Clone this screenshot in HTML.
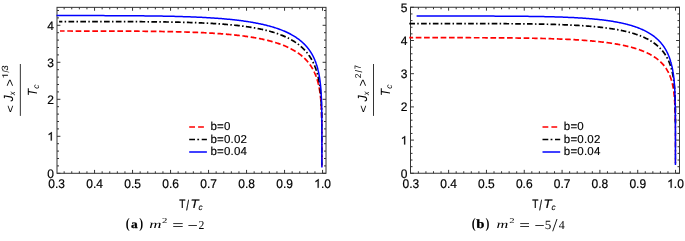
<!DOCTYPE html>
<html><head><meta charset="utf-8"><style>
html,body{margin:0;padding:0;background:#fff;}
svg{display:block;will-change:transform;}
text{font-family:"Liberation Sans",sans-serif;font-size:12px;fill:#000;text-rendering:geometricPrecision;}
text.lg{font-size:11.5px;letter-spacing:0.2px;stroke:#000;stroke-width:0.15px;}
text.serif{font-family:"Liberation Serif",serif;}
</style></head><body>
<svg width="685" height="241" viewBox="0 0 685 241">
<rect width="685" height="241" fill="#fff"/>
<rect x="57.0" y="7.35" width="269.00" height="165.95" fill="none" stroke="#333" stroke-width="1"/>
<path d="M64.15,173.3v-2.0M64.15,7.35v2.0M71.75,173.3v-2.0M71.75,7.35v2.0M79.35,173.3v-2.0M79.35,7.35v2.0M86.95,173.3v-2.0M86.95,7.35v2.0M94.55,173.3v-3.4M94.55,7.35v3.4M102.15,173.3v-2.0M102.15,7.35v2.0M109.75,173.3v-2.0M109.75,7.35v2.0M117.35,173.3v-2.0M117.35,7.35v2.0M124.95,173.3v-2.0M124.95,7.35v2.0M132.55,173.3v-3.4M132.55,7.35v3.4M140.15,173.3v-2.0M140.15,7.35v2.0M147.75,173.3v-2.0M147.75,7.35v2.0M155.35,173.3v-2.0M155.35,7.35v2.0M162.95,173.3v-2.0M162.95,7.35v2.0M170.55,173.3v-3.4M170.55,7.35v3.4M178.15,173.3v-2.0M178.15,7.35v2.0M185.75,173.3v-2.0M185.75,7.35v2.0M193.35,173.3v-2.0M193.35,7.35v2.0M200.95,173.3v-2.0M200.95,7.35v2.0M208.55,173.3v-3.4M208.55,7.35v3.4M216.15,173.3v-2.0M216.15,7.35v2.0M223.75,173.3v-2.0M223.75,7.35v2.0M231.35,173.3v-2.0M231.35,7.35v2.0M238.95,173.3v-2.0M238.95,7.35v2.0M246.55,173.3v-3.4M246.55,7.35v3.4M254.15,173.3v-2.0M254.15,7.35v2.0M261.75,173.3v-2.0M261.75,7.35v2.0M269.35,173.3v-2.0M269.35,7.35v2.0M276.95,173.3v-2.0M276.95,7.35v2.0M284.55,173.3v-3.4M284.55,7.35v3.4M292.15,173.3v-2.0M292.15,7.35v2.0M299.75,173.3v-2.0M299.75,7.35v2.0M307.35,173.3v-2.0M307.35,7.35v2.0M314.95,173.3v-2.0M314.95,7.35v2.0M322.55,173.3v-3.4M322.55,7.35v3.4M57.0,173.30h3.4M326.0,173.30h-3.4M57.0,165.90h2.0M326.0,165.90h-2.0M57.0,158.50h2.0M326.0,158.50h-2.0M57.0,151.10h2.0M326.0,151.10h-2.0M57.0,143.70h2.0M326.0,143.70h-2.0M57.0,136.30h3.4M326.0,136.30h-3.4M57.0,128.90h2.0M326.0,128.90h-2.0M57.0,121.50h2.0M326.0,121.50h-2.0M57.0,114.10h2.0M326.0,114.10h-2.0M57.0,106.70h2.0M326.0,106.70h-2.0M57.0,99.30h3.4M326.0,99.30h-3.4M57.0,91.90h2.0M326.0,91.90h-2.0M57.0,84.50h2.0M326.0,84.50h-2.0M57.0,77.10h2.0M326.0,77.10h-2.0M57.0,69.70h2.0M326.0,69.70h-2.0M57.0,62.30h3.4M326.0,62.30h-3.4M57.0,54.90h2.0M326.0,54.90h-2.0M57.0,47.50h2.0M326.0,47.50h-2.0M57.0,40.10h2.0M326.0,40.10h-2.0M57.0,32.70h2.0M326.0,32.70h-2.0M57.0,25.30h3.4M326.0,25.30h-3.4M57.0,17.90h2.0M326.0,17.90h-2.0M57.0,10.50h2.0M326.0,10.50h-2.0" stroke="#333" stroke-width="1" fill="none"/>
<g fill="none" stroke-width="1.5">
<path d="M60.00,31.02 L62.62,31.02 L65.21,31.02 L67.78,31.02 L70.33,31.02 L72.86,31.03 L75.37,31.03 L77.86,31.03 L80.33,31.03 L82.78,31.03 L85.21,31.04 L87.62,31.04 L90.01,31.04 L92.39,31.04 L94.74,31.05 L97.07,31.05 L99.38,31.06 L101.68,31.06 L103.95,31.07 L106.21,31.07 L108.44,31.08 L110.66,31.08 L112.86,31.09 L115.04,31.10 L117.21,31.11 L119.35,31.12 L121.48,31.12 L123.59,31.13 L125.68,31.14 L127.76,31.16 L129.81,31.17 L131.85,31.18 L133.87,31.19 L135.88,31.21 L137.86,31.22 L139.84,31.24 L141.79,31.25 L143.73,31.27 L145.64,31.29 L147.55,31.31 L149.43,31.33 L151.31,31.35 L153.16,31.37 L155.00,31.40 L156.82,31.42 L158.63,31.45 L160.42,31.47 L162.19,31.50 L163.95,31.53 L165.69,31.56 L167.42,31.59 L169.13,31.62 L170.83,31.66 L172.51,31.69 L174.18,31.73 L175.83,31.77 L177.47,31.80 L179.09,31.84 L180.70,31.89 L182.29,31.93 L183.87,31.98 L185.44,32.02 L186.99,32.07 L188.52,32.12 L190.05,32.17 L191.55,32.22 L193.05,32.28 L194.53,32.33 L196.00,32.39 L197.45,32.45 L198.89,32.51 L200.32,32.57 L201.73,32.64 L203.13,32.70 L204.52,32.77 L205.89,32.84 L207.25,32.91 L208.60,32.98 L209.94,33.06 L211.26,33.13 L212.57,33.21 L213.87,33.29 L215.16,33.37 L216.43,33.46 L217.69,33.54 L218.94,33.63 L220.18,33.72 L221.40,33.81 L222.62,33.90 L223.82,34.00 L225.01,34.09 L226.19,34.19 L227.35,34.29 L228.51,34.40 L229.65,34.50 L230.79,34.61 L231.91,34.71 L233.02,34.82 L234.12,34.94 L235.21,35.05 L236.29,35.17 L237.35,35.28 L238.41,35.40 L239.46,35.53 L240.49,35.65 L241.52,35.78 L242.53,35.90 L243.54,36.03 L244.53,36.16 L245.52,36.30 L246.49,36.43 L247.45,36.57 L248.41,36.71 L249.35,36.85 L250.29,36.99 L251.21,37.14 L252.13,37.29 L253.03,37.44 L253.93,37.59 L254.82,37.74 L255.69,37.89 L256.56,38.05 L257.42,38.21 L258.27,38.37 L259.11,38.53 L259.95,38.70 L260.77,38.86 L261.59,39.03 L262.39,39.20 L263.19,39.37 L263.98,39.55 L264.76,39.72 L265.53,39.90 L266.29,40.08 L267.05,40.26 L267.80,40.44 L268.54,40.63 L269.27,40.81 L269.99,41.00 L270.70,41.19 L271.41,41.38 L272.11,41.58 L272.80,41.77 L273.49,41.97 L274.16,42.17 L274.83,42.37 L275.49,42.57 L276.14,42.77 L276.79,42.98 L277.43,43.19 L278.06,43.40 L278.68,43.61 L279.30,43.82 L279.91,44.03 L280.51,44.25 L281.11,44.47 L281.70,44.69 L282.28,44.91 L282.86,45.13 L283.43,45.35 L283.99,45.58 L284.54,45.80 L285.09,46.03 L285.64,46.26 L286.17,46.49 L286.70,46.73 L287.23,46.96 L287.74,47.20 L288.25,47.43 L288.76,47.67 L289.26,47.91 L289.75,48.16 L290.24,48.40 L290.72,48.64 L291.19,48.89 L291.66,49.14 L292.13,49.39 L292.58,49.64 L293.04,49.89 L293.48,50.14 L293.92,50.40 L294.36,50.65 L294.79,50.91 L295.21,51.17 L295.63,51.43 L296.05,51.69 L296.46,51.95 L296.86,52.22 L297.26,52.48 L297.65,52.75 L298.04,53.02 L298.42,53.29 L298.80,53.56 L299.18,53.83 L299.54,54.10 L299.91,54.37 L300.27,54.65 L300.62,54.92 L300.97,55.20 L301.32,55.48 L301.66,55.76 L301.99,56.04 L302.33,56.32 L302.65,56.61 L302.97,56.89 L303.29,57.18 L303.61,57.46 L303.92,57.75 L304.22,58.04 L304.52,58.33 L304.82,58.62 L305.11,58.91 L305.40,59.20 L305.69,59.50 L305.97,59.79 L306.25,60.09 L306.52,60.38 L306.79,60.68 L307.06,60.98 L307.32,61.28 L307.58,61.58 L307.83,61.88 L308.08,62.18 L308.33,62.49 L308.57,62.79 L308.81,63.10 L309.05,63.40 L309.28,63.71 L309.51,64.02 L309.74,64.33 L309.96,64.64 L310.18,64.95 L310.40,65.26 L310.61,65.57 L310.82,65.89 L311.03,66.20 L311.24,66.52 L311.44,66.83 L311.63,67.15 L311.83,67.46 L312.02,67.78 L312.21,68.10 L312.40,68.42 L312.58,68.74 L312.76,69.06 L312.94,69.39 L313.11,69.71 L313.28,70.03 L313.45,70.36 L313.62,70.68 L313.78,71.01 L313.95,71.33 L314.10,71.66 L314.26,71.99 L314.41,72.32 L314.57,72.65 L314.71,72.98 L314.86,73.31 L315.00,73.64 L315.15,73.97 L315.29,74.30 L315.42,74.64 L315.56,74.97 L315.69,75.31 L315.82,75.64 L315.95,75.98 L316.07,76.31 L316.20,76.65 L316.32,76.99 L316.44,77.33 L316.56,77.67 L316.67,78.01 L316.78,78.35 L316.90,78.69 L317.00,79.03 L317.11,79.37 L317.22,79.71 L317.32,80.06 L317.42,80.40 L317.52,80.75 L317.62,81.09 L317.72,81.44 L317.81,81.78 L317.91,82.13 L318.00,82.48 L318.09,82.82 L318.17,83.17 L318.26,83.52 L318.35,83.87 L318.43,84.22 L318.51,84.57 L318.59,84.92 L318.67,85.27 L318.75,85.63 L318.82,85.98 L318.90,86.33 L318.97,86.69 L319.04,87.04 L319.11,87.39 L319.18,87.75 L319.24,88.10 L319.31,88.46 L319.37,88.82 L319.44,89.17 L319.50,89.53 L319.56,89.89 L319.62,90.25 L319.68,90.61 L319.73,90.97 L319.79,91.33 L319.84,91.69 L319.90,92.05 L319.95,92.41 L320.00,92.77 L320.05,93.13 L320.10,93.50 L320.15,93.86 L320.20,94.22 L320.24,94.59 L320.29,94.95 L320.33,95.32 L320.37,95.68 L320.42,96.05 L320.46,96.42 L320.50,96.78 L320.54,97.15 L320.57,97.52 L320.61,97.89 L320.65,98.26 L320.68,98.63 L320.72,98.99 L320.75,99.36 L320.79,99.74 L320.82,100.11 L320.85,100.48 L320.88,100.85 L320.91,101.22 L320.94,101.60 L320.97,101.97 L321.00,102.34 L321.03,102.72 L321.05,103.09 L321.08,103.47 L321.10,103.84 L321.13,104.22 L321.15,104.59 L321.18,104.97 L321.20,105.35 L321.22,105.73 L321.24,106.10 L321.26,106.48 L321.28,106.86 L321.30,107.24 L321.32,107.62 L321.34,108.00 L321.36,108.38 L321.38,108.77 L321.40,109.15 L321.41,109.53 L321.43,109.91 L321.45,110.30 L321.46,110.68 L321.48,111.06 L321.49,111.45 L321.51,111.83 L321.52,112.22 L321.53,112.61 L321.55,112.99 L321.56,113.38 L321.57,113.77 L321.58,114.16 L321.59,114.55 L321.61,114.93 L321.62,115.32 L321.64,115.71 L321.66,116.11 L321.67,116.50 L321.69,116.89 L321.70,117.28 L321.71,117.67 L321.72,118.07 L321.74,118.46 L321.75,118.86 L321.76,119.25 L321.77,119.65 L321.78,120.04 L321.79,120.44 L321.79,120.84 L321.80,121.23 L321.81,121.63 L321.82,122.03 L321.82,122.43 L321.83,122.83 L321.84,123.23" stroke="#ff0000" stroke-width="1.7" stroke-dasharray="5.700,2.650" stroke-dashoffset="1.1"/>
<path d="M321.84,123.23 L321.84,123.63 L321.85,124.03 L321.85,124.44 L321.85,124.84 L321.86,125.24 L321.86,125.65 L321.86,126.05 L321.86,126.46 L321.86,126.86 L321.86,127.27 L321.87,127.68 L321.87,128.08 L321.87,128.49 L321.87,128.90 L321.87,129.31 L321.87,129.72 L321.87,130.13 L321.87,130.55 L321.87,130.96 L321.87,131.37 L321.88,131.79 L321.88,132.20 L321.88,132.62 L321.88,133.04 L321.88,133.45 L321.88,133.87 L321.88,134.29 L321.88,134.71 L321.88,135.13 L321.88,135.55 L321.88,135.97 L321.88,136.40 L321.88,136.82 L321.88,137.25 L321.88,137.67 L321.88,138.10 L321.88,138.53 L321.88,138.95 L321.88,139.38 L321.88,139.81 L321.88,140.25 L321.88,140.68 L321.88,141.11 L321.88,141.55 L321.88,141.98 L321.88,142.42 L321.88,142.86 L321.89,143.29 L321.89,143.73 L321.89,144.18 L321.89,144.62 L321.89,145.06 L321.89,145.51 L321.89,145.95 L321.89,146.40 L321.89,146.85 L321.89,147.30 L321.89,147.75 L321.89,148.20 L321.89,148.66 L321.89,149.11 L321.89,149.57 L321.89,150.03 L321.89,150.49 L321.89,150.95 L321.89,151.42 L321.89,151.88 L321.89,152.35 L321.89,152.82 L321.89,153.29 L321.89,153.76 L321.89,154.24 L321.89,154.71 L321.89,155.19 L321.89,155.68 L321.89,156.16 L321.89,156.65 L321.89,157.14 L321.89,157.63 L321.89,158.12 L321.89,158.62 L321.89,159.12 L321.89,159.62 L321.89,160.13 L321.89,160.64 L321.89,161.15 L321.89,161.67 L321.89,162.19 L321.89,162.72 L321.89,163.25 L321.89,163.79 L321.89,164.33 L321.89,164.88 L321.89,165.43 L321.89,165.99 L321.89,166.40" stroke="#ff0000" stroke-width="1.3" stroke-dasharray="5.700,2.650" stroke-dashoffset="319.840"/>
<path d="M59.10,21.55 L61.73,21.55 L64.33,21.55 L66.91,21.55 L69.47,21.55 L72.01,21.55 L74.53,21.56 L77.03,21.56 L79.50,21.56 L81.96,21.56 L84.40,21.56 L86.82,21.56 L89.22,21.56 L91.60,21.57 L93.96,21.57 L96.30,21.57 L98.62,21.57 L100.92,21.58 L103.20,21.58 L105.47,21.59 L107.71,21.59 L109.94,21.59 L112.15,21.60 L114.34,21.60 L116.51,21.61 L118.66,21.62 L120.80,21.62 L122.91,21.63 L125.01,21.64 L127.09,21.64 L129.16,21.65 L131.20,21.66 L133.23,21.67 L135.24,21.68 L137.24,21.69 L139.21,21.71 L141.17,21.72 L143.12,21.73 L145.04,21.75 L146.95,21.76 L148.85,21.78 L150.72,21.79 L152.58,21.81 L154.43,21.83 L156.26,21.85 L158.07,21.87 L159.87,21.89 L161.65,21.92 L163.41,21.94 L165.16,21.97 L166.89,21.99 L168.61,22.02 L170.32,22.05 L172.00,22.08 L173.68,22.11 L175.34,22.14 L176.98,22.17 L178.61,22.21 L180.22,22.25 L181.82,22.28 L183.40,22.32 L184.97,22.36 L186.53,22.41 L188.07,22.45 L189.60,22.50 L191.11,22.54 L192.61,22.59 L194.10,22.64 L195.57,22.69 L197.03,22.75 L198.48,22.80 L199.91,22.86 L201.33,22.92 L202.73,22.98 L204.12,23.04 L205.50,23.10 L206.87,23.17 L208.22,23.24 L209.56,23.31 L210.89,23.38 L212.21,23.45 L213.51,23.53 L214.80,23.60 L216.08,23.68 L217.34,23.77 L218.60,23.85 L219.84,23.93 L221.07,24.02 L222.29,24.11 L223.49,24.20 L224.69,24.29 L225.87,24.39 L227.04,24.49 L228.20,24.59 L229.35,24.69 L230.49,24.79 L231.61,24.90 L232.73,25.01 L233.83,25.12 L234.92,25.23 L236.00,25.34 L237.07,25.46 L238.14,25.58 L239.18,25.70 L240.22,25.82 L241.25,25.95 L242.27,26.07 L243.28,26.20 L244.28,26.34 L245.26,26.47 L246.24,26.61 L247.21,26.74 L248.17,26.88 L249.11,27.03 L250.05,27.17 L250.98,27.32 L251.90,27.47 L252.81,27.62 L253.71,27.77 L254.60,27.93 L255.48,28.09 L256.35,28.25 L257.21,28.41 L258.07,28.57 L258.91,28.74 L259.75,28.91 L260.57,29.08 L261.39,29.25 L262.20,29.43 L263.00,29.61 L263.79,29.78 L264.58,29.97 L265.35,30.15 L266.12,30.34 L266.87,30.52 L267.62,30.71 L268.37,30.91 L269.10,31.10 L269.82,31.30 L270.54,31.50 L271.25,31.70 L271.95,31.90 L272.65,32.10 L273.33,32.31 L274.01,32.52 L274.68,32.73 L275.34,32.94 L276.00,33.16 L276.65,33.37 L277.29,33.59 L277.92,33.81 L278.55,34.03 L279.17,34.26 L279.78,34.48 L280.39,34.71 L280.98,34.94 L281.58,35.17 L282.16,35.41 L282.74,35.64 L283.31,35.88 L283.87,36.12 L284.43,36.36 L284.98,36.61 L285.53,36.85 L286.06,37.10 L286.60,37.35 L287.12,37.60 L287.64,37.85 L288.15,38.10 L288.66,38.36 L289.16,38.62 L289.66,38.88 L290.14,39.14 L290.63,39.40 L291.10,39.66 L291.57,39.93 L292.04,40.20 L292.50,40.47 L292.95,40.74 L293.40,41.01 L293.84,41.28 L294.28,41.56 L294.71,41.84 L295.14,42.11 L295.56,42.39 L295.97,42.68 L296.38,42.96 L296.79,43.24 L297.19,43.53 L297.58,43.82 L297.97,44.11 L298.36,44.40 L298.74,44.69 L299.11,44.98 L299.48,45.28 L299.85,45.58 L300.21,45.87 L300.56,46.17 L300.92,46.47 L301.26,46.78 L301.60,47.08 L301.94,47.38 L302.27,47.69 L302.60,48.00 L302.93,48.31 L303.24,48.62 L303.56,48.93 L303.87,49.24 L304.18,49.55 L304.48,49.87 L304.78,50.19 L305.07,50.50 L305.36,50.82 L305.65,51.14 L305.93,51.46 L306.21,51.79 L306.48,52.11 L306.75,52.43 L307.02,52.76 L307.28,53.09 L307.54,53.42 L307.80,53.74 L308.05,54.07 L308.30,54.41 L308.54,54.74 L308.78,55.07 L309.02,55.41 L309.26,55.74 L309.49,56.08 L309.71,56.42 L309.94,56.76 L310.16,57.09 L310.38,57.44 L310.59,57.78 L310.80,58.12 L311.01,58.46 L311.21,58.81 L311.42,59.15 L311.61,59.50 L311.81,59.85 L312.00,60.20 L312.19,60.54 L312.38,60.89 L312.56,61.25 L312.74,61.60 L312.92,61.95 L313.10,62.30 L313.27,62.66 L313.44,63.01 L313.61,63.37 L313.77,63.73 L313.93,64.08 L314.09,64.44 L314.25,64.80 L314.40,65.16 L314.56,65.52 L314.71,65.89 L314.85,66.25 L315.00,66.61 L315.14,66.98 L315.28,67.34 L315.42,67.71 L315.55,68.07 L315.68,68.44 L315.81,68.81 L315.94,69.18 L316.07,69.55 L316.19,69.92 L316.32,70.29 L316.44,70.66 L316.55,71.03 L316.67,71.40 L316.78,71.77 L316.89,72.15 L317.00,72.52 L317.11,72.90 L317.22,73.27 L317.32,73.65 L317.42,74.03 L317.52,74.41 L317.62,74.78 L317.72,75.16 L317.82,75.54 L317.91,75.92 L318.00,76.30 L318.09,76.69 L318.18,77.07 L318.26,77.45 L318.35,77.83 L318.43,78.22 L318.51,78.60 L318.60,78.99 L318.67,79.37 L318.75,79.76 L318.83,80.15 L318.90,80.53 L318.97,80.92 L319.05,81.31 L319.12,81.70 L319.18,82.09 L319.25,82.48 L319.32,82.87 L319.38,83.26 L319.45,83.65 L319.51,84.04 L319.57,84.43 L319.63,84.83 L319.69,85.22 L319.74,85.61 L319.80,86.01 L319.85,86.40 L319.91,86.80 L319.96,87.19 L320.01,87.59 L320.06,87.99 L320.11,88.38 L320.16,88.78 L320.21,89.18 L320.25,89.58 L320.30,89.98 L320.34,90.38 L320.38,90.78 L320.43,91.18 L320.47,91.58 L320.51,91.98 L320.55,92.38 L320.59,92.78 L320.62,93.19 L320.66,93.59 L320.70,93.99 L320.73,94.40 L320.77,94.80 L320.80,95.21 L320.83,95.61 L320.86,96.02 L320.89,96.43 L320.92,96.83 L320.95,97.24 L320.98,97.65 L321.01,98.06 L321.04,98.46 L321.07,98.87 L321.09,99.28 L321.12,99.69 L321.14,100.10 L321.17,100.51 L321.19,100.93 L321.21,101.34 L321.24,101.75 L321.26,102.16 L321.28,102.57 L321.30,102.99 L321.32,103.40 L321.34,103.82 L321.36,104.23 L321.38,104.65 L321.39,105.06 L321.41,105.48 L321.43,105.89 L321.45,106.31 L321.46,106.73 L321.48,107.15 L321.49,107.56 L321.51,107.98 L321.52,108.40 L321.54,108.82 L321.55,109.24 L321.56,109.66 L321.57,110.08 L321.59,110.51 L321.60,110.93 L321.61,111.35 L321.62,111.77 L321.63,112.20 L321.64,112.62 L321.65,113.04 L321.66,113.47 L321.67,113.89 L321.68,114.32 L321.69,114.74 L321.70,115.17 L321.71,115.60 L321.72,116.03 L321.74,116.45 L321.75,116.88 L321.76,117.31 L321.76,117.74 L321.77,118.17 L321.78,118.60 L321.79,119.03 L321.80,119.46 L321.80,119.90 L321.81,120.33 L321.82,120.76 L321.82,121.20 L321.83,121.63 L321.83,122.07 L321.84,122.50 L321.84,122.94 L321.84,123.37" stroke="#000" stroke-width="1.7" stroke-dasharray="5.700,2.300,1.500,2.340" stroke-dashoffset="2.46"/>
<path d="M321.84,123.37 L321.85,123.81 L321.85,124.25 L321.85,124.69 L321.86,125.12 L321.86,125.56 L321.86,126.00 L321.86,126.44 L321.86,126.89 L321.86,127.33 L321.87,127.77 L321.87,128.21 L321.87,128.66 L321.87,129.10 L321.87,129.55 L321.87,129.99 L321.87,130.44 L321.87,130.88 L321.87,131.33 L321.88,131.78 L321.88,132.23 L321.88,132.68 L321.88,133.13 L321.88,133.58 L321.88,134.03 L321.88,134.48 L321.88,134.94 L321.88,135.39 L321.89,135.85 L321.89,136.30 L321.89,136.76 L321.89,137.22 L321.89,137.67 L321.89,138.13 L321.89,138.59 L321.89,139.05 L321.89,139.52 L321.89,139.98 L321.89,140.44 L321.90,140.91 L321.90,141.37 L321.90,141.84 L321.90,142.30 L321.90,142.77 L321.90,143.24 L321.90,143.71 L321.90,144.18 L321.90,144.66 L321.90,145.13 L321.90,145.61 L321.90,146.08 L321.90,146.56 L321.90,147.04 L321.90,147.52 L321.90,148.00 L321.90,148.48 L321.90,148.96 L321.90,149.45 L321.90,149.93 L321.90,150.42 L321.90,150.91 L321.90,151.40 L321.90,151.89 L321.90,152.39 L321.90,152.88 L321.90,153.38 L321.90,153.88 L321.90,154.38 L321.90,154.88 L321.90,155.39 L321.90,155.90 L321.90,156.40 L321.90,156.92 L321.90,157.43 L321.90,157.94 L321.90,158.46 L321.90,158.98 L321.90,159.51 L321.90,160.03 L321.90,160.56 L321.90,161.10 L321.90,161.63 L321.90,162.17 L321.90,162.71 L321.90,163.26 L321.90,163.81 L321.90,164.37 L321.90,164.93 L321.90,165.50 L321.90,166.07 L321.90,166.40" stroke="#000" stroke-width="1.3" stroke-dasharray="5.700,2.300,1.500,2.340" stroke-dashoffset="331.024"/>
<path d="M56.55,15.57 L59.20,15.57 L61.82,15.57 L64.43,15.57 L67.02,15.57 L69.58,15.57 L72.12,15.58 L74.65,15.58 L77.15,15.58 L79.63,15.58 L82.09,15.58 L84.53,15.59 L86.96,15.59 L89.36,15.59 L91.74,15.60 L94.10,15.60 L96.45,15.61 L98.77,15.61 L101.08,15.62 L103.36,15.62 L105.63,15.63 L107.88,15.64 L110.11,15.65 L112.32,15.65 L114.51,15.66 L116.68,15.67 L118.84,15.68 L120.98,15.69 L123.09,15.70 L125.20,15.71 L127.28,15.73 L129.35,15.74 L131.39,15.75 L133.42,15.77 L135.44,15.79 L137.43,15.80 L139.41,15.82 L141.38,15.84 L143.32,15.86 L145.25,15.88 L147.16,15.90 L149.06,15.92 L150.93,15.95 L152.80,15.97 L154.64,16.00 L156.47,16.02 L158.29,16.05 L160.08,16.08 L161.87,16.11 L163.63,16.15 L165.38,16.18 L167.12,16.21 L168.84,16.25 L170.54,16.29 L172.23,16.33 L173.90,16.37 L175.56,16.41 L177.21,16.45 L178.84,16.50 L180.45,16.54 L182.05,16.59 L183.64,16.64 L185.21,16.69 L186.76,16.74 L188.31,16.80 L189.84,16.85 L191.35,16.91 L192.85,16.97 L194.34,17.03 L195.81,17.09 L197.27,17.16 L198.71,17.22 L200.15,17.29 L201.57,17.36 L202.97,17.43 L204.36,17.50 L205.74,17.58 L207.11,17.65 L208.46,17.73 L209.80,17.81 L211.13,17.90 L212.45,17.98 L213.75,18.07 L215.04,18.16 L216.32,18.25 L217.58,18.34 L218.84,18.43 L220.08,18.53 L221.31,18.62 L222.53,18.72 L223.73,18.83 L224.93,18.93 L226.11,19.04 L227.28,19.14 L228.44,19.25 L229.59,19.36 L230.72,19.48 L231.85,19.59 L232.96,19.71 L234.07,19.83 L235.16,19.95 L236.24,20.08 L237.31,20.20 L238.37,20.33 L239.42,20.46 L240.46,20.59 L241.49,20.73 L242.50,20.86 L243.51,21.00 L244.51,21.14 L245.50,21.28 L246.47,21.42 L247.44,21.57 L248.40,21.72 L249.34,21.87 L250.28,22.02 L251.21,22.17 L252.13,22.33 L253.03,22.49 L253.93,22.65 L254.82,22.81 L255.70,22.97 L256.57,23.14 L257.43,23.31 L258.29,23.48 L259.13,23.65 L259.97,23.82 L260.79,24.00 L261.61,24.17 L262.42,24.35 L263.22,24.54 L264.01,24.72 L264.79,24.90 L265.56,25.09 L266.33,25.28 L267.08,25.47 L267.83,25.66 L268.57,25.86 L269.31,26.05 L270.03,26.25 L270.75,26.45 L271.45,26.65 L272.15,26.86 L272.85,27.06 L273.53,27.27 L274.21,27.48 L274.88,27.69 L275.54,27.90 L276.20,28.12 L276.84,28.34 L277.48,28.55 L278.12,28.77 L278.74,28.99 L279.36,29.22 L279.97,29.44 L280.57,29.67 L281.17,29.90 L281.76,30.13 L282.34,30.36 L282.92,30.59 L283.49,30.83 L284.05,31.06 L284.61,31.30 L285.16,31.54 L285.70,31.78 L286.24,32.03 L286.77,32.27 L287.29,32.52 L287.81,32.77 L288.32,33.01 L288.83,33.27 L289.33,33.52 L289.82,33.77 L290.31,34.03 L290.79,34.28 L291.27,34.54 L291.74,34.80 L292.20,35.06 L292.66,35.33 L293.11,35.59 L293.56,35.86 L294.00,36.12 L294.43,36.39 L294.86,36.66 L295.29,36.93 L295.71,37.21 L296.12,37.48 L296.53,37.76 L296.94,38.03 L297.33,38.31 L297.73,38.59 L298.12,38.87 L298.50,39.15 L298.88,39.44 L299.25,39.72 L299.62,40.01 L299.98,40.30 L300.34,40.58 L300.70,40.87 L301.05,41.17 L301.39,41.46 L301.73,41.75 L302.07,42.05 L302.40,42.34 L302.73,42.64 L303.05,42.94 L303.37,43.24 L303.68,43.54 L303.99,43.84 L304.30,44.14 L304.60,44.45 L304.89,44.75 L305.19,45.06 L305.48,45.37 L305.76,45.67 L306.04,45.98 L306.32,46.30 L306.59,46.61 L306.86,46.92 L307.13,47.23 L307.39,47.55 L307.65,47.87 L307.90,48.18 L308.15,48.50 L308.40,48.82 L308.64,49.14 L308.88,49.46 L309.12,49.78 L309.35,50.11 L309.58,50.43 L309.81,50.76 L310.03,51.08 L310.25,51.41 L310.47,51.74 L310.68,52.07 L310.89,52.40 L311.10,52.73 L311.30,53.06 L311.50,53.39 L311.70,53.72 L311.89,54.06 L312.08,54.39 L312.27,54.73 L312.46,55.07 L312.64,55.41 L312.82,55.74 L313.00,56.08 L313.17,56.43 L313.34,56.77 L313.51,57.11 L313.68,57.45 L313.84,57.80 L314.00,58.14 L314.16,58.49 L314.32,58.83 L314.47,59.18 L314.62,59.53 L314.77,59.88 L314.91,60.23 L315.06,60.58 L315.20,60.93 L315.34,61.28 L315.47,61.63 L315.61,61.99 L315.74,62.34 L315.87,62.70 L316.00,63.05 L316.12,63.41 L316.25,63.76 L316.37,64.12 L316.49,64.48 L316.60,64.84 L316.72,65.20 L316.83,65.56 L316.94,65.92 L317.05,66.29 L317.16,66.65 L317.26,67.01 L317.37,67.38 L317.47,67.74 L317.57,68.11 L317.66,68.47 L317.76,68.84 L317.85,69.21 L317.95,69.58 L318.04,69.95 L318.13,70.32 L318.21,70.69 L318.30,71.06 L318.38,71.43 L318.47,71.80 L318.55,72.18 L318.63,72.55 L318.71,72.92 L318.78,73.30 L318.86,73.67 L318.93,74.05 L319.00,74.43 L319.07,74.81 L319.14,75.18 L319.21,75.56 L319.28,75.94 L319.34,76.32 L319.41,76.70 L319.47,77.09 L319.53,77.47 L319.59,77.85 L319.65,78.23 L319.71,78.62 L319.76,79.00 L319.82,79.39 L319.87,79.77 L319.93,80.16 L319.98,80.55 L320.03,80.94 L320.08,81.32 L320.13,81.71 L320.17,82.10 L320.22,82.49 L320.27,82.88 L320.31,83.28 L320.35,83.67 L320.40,84.06 L320.44,84.45 L320.48,84.85 L320.52,85.24 L320.56,85.64 L320.60,86.03 L320.63,86.43 L320.67,86.83 L320.70,87.23 L320.74,87.62 L320.77,88.02 L320.81,88.42 L320.84,88.82 L320.87,89.22 L320.90,89.63 L320.93,90.03 L320.96,90.43 L320.99,90.83 L321.02,91.24 L321.04,91.64 L321.07,92.05 L321.09,92.45 L321.12,92.86 L321.14,93.27 L321.17,93.68 L321.19,94.08 L321.21,94.49 L321.24,94.90 L321.26,95.31 L321.28,95.73 L321.30,96.14 L321.32,96.55 L321.34,96.96 L321.36,97.38 L321.37,97.79 L321.39,98.21 L321.41,98.62 L321.43,99.04 L321.44,99.46 L321.46,99.87 L321.47,100.29 L321.49,100.71 L321.50,101.13 L321.52,101.55 L321.53,101.97 L321.54,102.40 L321.56,102.82 L321.57,103.24 L321.58,103.67 L321.59,104.09 L321.60,104.52 L321.61,104.95 L321.62,105.37 L321.64,105.80 L321.65,106.23 L321.65,106.66 L321.66,107.09 L321.67,107.52 L321.68,107.95 L321.69,108.39 L321.70,108.82 L321.71,109.26 L321.71,109.69 L321.72,110.13 L321.73,110.56 L321.74,111.00 L321.74,111.44 L321.75,111.88 L321.75,112.32 L321.76,112.76 L321.77,113.20 L321.77,113.65 L321.78,114.09 L321.78,114.54 L321.79,114.98 L321.79,115.43 L321.80,115.88 L321.80,116.33 L321.80,116.78 L321.81,117.23 L321.81,117.68 L321.82,118.13 L321.82,118.58 L321.82,119.04 L321.83,119.49 L321.83,119.95 L321.83,120.41 L321.84,120.87 L321.84,121.33 L321.84,121.79 L321.84,122.25 L321.85,122.71 L321.85,123.18 L321.85,123.64 L321.85,124.11 L321.85,124.58 L321.86,125.05 L321.86,125.52 L321.86,125.99 L321.86,126.46 L321.86,126.94 L321.86,127.41 L321.87,127.89 L321.87,128.37 L321.87,128.85 L321.87,129.33 L321.87,129.81 L321.87,130.30 L321.87,130.78 L321.87,131.27 L321.87,131.76 L321.88,132.25 L321.88,132.74 L321.88,133.23 L321.88,133.73 L321.88,134.22 L321.88,134.72 L321.88,135.22 L321.88,135.72 L321.88,136.22 L321.88,136.73 L321.88,137.24 L321.88,137.75 L321.88,138.26 L321.88,138.77 L321.88,139.28 L321.88,139.80 L321.88,140.32 L321.88,140.84 L321.88,141.37 L321.88,141.89 L321.88,142.42 L321.88,142.95 L321.89,143.48 L321.89,144.02 L321.89,144.56 L321.89,145.10 L321.89,145.64 L321.89,146.19 L321.89,146.74 L321.89,147.29 L321.89,147.85 L321.89,148.41 L321.89,148.97 L321.89,149.54 L321.89,150.11 L321.89,150.68 L321.89,151.26 L321.89,151.84 L321.89,152.43 L321.89,153.02 L321.89,153.61 L321.89,154.21 L321.89,154.82 L321.89,155.43 L321.89,156.04 L321.89,156.67 L321.89,157.29 L321.89,157.93 L321.89,158.57 L321.89,159.22 L321.89,159.88 L321.89,160.54 L321.89,161.22 L321.89,161.91 L321.89,162.60 L321.89,163.31 L321.89,164.04 L321.89,164.77 L321.89,165.53 L321.89,166.31 L321.89,167.11 L321.89,167.40" stroke="#0000ff"/>
</g>
<g transform="translate(0,187.800) scale(1,1.06) translate(0,-187.800)"><text x="48.209" y="187.800" style="font-family:'Liberation Sans',sans-serif;font-size:12px;fill:#000;stroke:#000;stroke-width:0.2px">0.3</text></g>
<g transform="translate(0,187.800) scale(1,1.06) translate(0,-187.800)"><text x="86.209" y="187.800" style="font-family:'Liberation Sans',sans-serif;font-size:12px;fill:#000;stroke:#000;stroke-width:0.2px">0.4</text></g>
<g transform="translate(0,187.800) scale(1,1.06) translate(0,-187.800)"><text x="124.209" y="187.800" style="font-family:'Liberation Sans',sans-serif;font-size:12px;fill:#000;stroke:#000;stroke-width:0.2px">0.5</text></g>
<g transform="translate(0,187.800) scale(1,1.06) translate(0,-187.800)"><text x="162.209" y="187.800" style="font-family:'Liberation Sans',sans-serif;font-size:12px;fill:#000;stroke:#000;stroke-width:0.2px">0.6</text></g>
<g transform="translate(0,187.800) scale(1,1.06) translate(0,-187.800)"><text x="200.209" y="187.800" style="font-family:'Liberation Sans',sans-serif;font-size:12px;fill:#000;stroke:#000;stroke-width:0.2px">0.7</text></g>
<g transform="translate(0,187.800) scale(1,1.06) translate(0,-187.800)"><text x="238.209" y="187.800" style="font-family:'Liberation Sans',sans-serif;font-size:12px;fill:#000;stroke:#000;stroke-width:0.2px">0.8</text></g>
<g transform="translate(0,187.800) scale(1,1.06) translate(0,-187.800)"><text x="276.209" y="187.800" style="font-family:'Liberation Sans',sans-serif;font-size:12px;fill:#000;stroke:#000;stroke-width:0.2px">0.9</text></g>
<g transform="translate(0,187.800) scale(1,1.06) translate(0,-187.800)"><path transform="translate(314.209,187.800) scale(12.0000,-12.0000)" d="M0.373,0 L0.285,0 L0.285,0.56 C0.253,0.53 0.2,0.49 0.109,0.445 L0.109,0.53 C0.2,0.575 0.3,0.64 0.337,0.688 L0.373,0.688 Z" fill="#000" stroke="#000" stroke-width="0.0167"/><text x="320.883" y="187.800" style="font-family:'Liberation Sans',sans-serif;font-size:12px;fill:#000;stroke:#000;stroke-width:0.2px">.0</text></g>
<g transform="translate(0,177.600) scale(1,1.03) translate(0,-177.600)"><text x="47.326" y="177.600" style="font-family:'Liberation Sans',sans-serif;font-size:12px;fill:#000;stroke:#000;stroke-width:0.2px">0</text></g>
<g transform="translate(0,140.600) scale(1,1.03) translate(0,-140.600)"><path transform="translate(47.326,140.600) scale(12.0000,-12.0000)" d="M0.373,0 L0.285,0 L0.285,0.56 C0.253,0.53 0.2,0.49 0.109,0.445 L0.109,0.53 C0.2,0.575 0.3,0.64 0.337,0.688 L0.373,0.688 Z" fill="#000" stroke="#000" stroke-width="0.0167"/></g>
<g transform="translate(0,103.600) scale(1,1.03) translate(0,-103.600)"><text x="47.326" y="103.600" style="font-family:'Liberation Sans',sans-serif;font-size:12px;fill:#000;stroke:#000;stroke-width:0.2px">2</text></g>
<g transform="translate(0,66.600) scale(1,1.03) translate(0,-66.600)"><text x="47.326" y="66.600" style="font-family:'Liberation Sans',sans-serif;font-size:12px;fill:#000;stroke:#000;stroke-width:0.2px">3</text></g>
<g transform="translate(0,29.600) scale(1,1.03) translate(0,-29.600)"><text x="47.326" y="29.600" style="font-family:'Liberation Sans',sans-serif;font-size:12px;fill:#000;stroke:#000;stroke-width:0.2px">4</text></g>
<path d="M189.2,127.0h5.8M198.1,127.0h5.8" stroke="#ff0000" stroke-width="1.5"/>
<path d="M189.2,139.5h5.8M197.29999999999998,139.5h1.8M201.7,139.5h5.2" stroke="#000" stroke-width="1.5"/>
<path d="M189.2,152.0h17.7" stroke="#0000ff" stroke-width="1.5"/>
<text x="210.50" y="130.20" class="lg">b=0</text>
<text x="210.50" y="142.60" class="lg">b=0.02</text>
<text x="210.50" y="155.10" class="lg">b=0.04</text>
<text transform="translate(179.224,207.850) scale(0.50404,0.61048)" style="font-family:'Liberation Sans',sans-serif;font-size:20px;fill:#000;stroke:#000;stroke-width:0.359px;stroke-linejoin:round">T</text>
<text transform="translate(186.150,209.712) scale(0.48591,0.70809)" style="font-family:'Liberation Sans',sans-serif;font-size:20px;fill:#000;stroke:#000;stroke-width:0.335px;stroke-linejoin:round">/</text>
<text transform="translate(190.557,207.850) scale(0.66370,0.61048)" style="font-family:'Liberation Sans',sans-serif;font-style:italic;font-size:20px;fill:#000;stroke:#000;stroke-width:0.314px;stroke-linejoin:round">T</text>
<text transform="translate(198.527,210.120) scale(0.41662,0.41070)" style="font-family:'Liberation Sans',sans-serif;font-style:italic;font-size:20px;fill:#000;stroke:#000;stroke-width:0.242px;stroke-linejoin:round">c</text>
<g transform="translate(0,0) rotate(-90)">
<text transform="translate(-112.469,13.779) scale(0.62778,0.55138)" style="font-family:'Liberation Sans',sans-serif;font-size:20px;fill:#000">&lt;</text>
<text transform="translate(-101.619,13.220) scale(0.62714,0.66642)" style="font-family:'Liberation Sans',sans-serif;font-style:italic;font-size:20px;fill:#000">J</text>
<text transform="translate(-95.155,15.450) scale(0.36885,0.40695)" style="font-family:'Liberation Sans',sans-serif;font-style:italic;font-size:20px;fill:#000">x</text>
<text transform="translate(-86.159,13.898) scale(0.61749,0.63015)" style="font-family:'Liberation Sans',sans-serif;font-size:20px;fill:#000">&gt;</text>
<path transform="translate(-78.565,7.950) scale(10.2273,-8.5756)" d="M0.373,0 L0.285,0 L0.285,0.56 C0.253,0.53 0.2,0.49 0.109,0.445 L0.109,0.53 C0.2,0.575 0.3,0.64 0.337,0.688 L0.373,0.688 Z" fill="#000"/>
<text transform="translate(-72.450,8.661) scale(0.39592,0.45617)" style="font-family:'Liberation Sans',sans-serif;font-size:20px;fill:#000">/</text>
<text transform="translate(-70.728,7.862) scale(0.49565,0.45197)" style="font-family:'Liberation Sans',sans-serif;font-size:20px;fill:#000">3</text>
<text transform="translate(-96.103,36.750) scale(0.58613,0.66862)" style="font-family:'Liberation Sans',sans-serif;font-style:italic;font-size:20px;fill:#000">T</text>
<text transform="translate(-88.630,38.966) scale(0.42758,0.42895)" style="font-family:'Liberation Sans',sans-serif;font-style:italic;font-size:20px;fill:#000">c</text>
</g>
<path d="M20.35,64V115.9" stroke="#333" stroke-width="1"/>
<text transform="translate(125.737,227.998) scale(0.58403,0.71686)" style="font-family:'Liberation Serif',serif;font-weight:bold;font-size:20px;fill:#000">(</text>
<text transform="translate(130.966,227.886) scale(0.67383,0.58455)" style="font-family:'Liberation Serif',serif;font-weight:bold;font-size:20px;fill:#000;stroke:#000;stroke-width:0.477px;stroke-linejoin:round">a</text>
<text transform="translate(139.174,227.998) scale(0.58403,0.71686)" style="font-family:'Liberation Serif',serif;font-weight:bold;font-size:20px;fill:#000">)</text>
<text transform="translate(149.338,228.150) scale(0.84622,0.56240)" style="font-family:'Liberation Serif',serif;font-style:italic;font-size:20px;fill:#000">m</text>
<text transform="translate(161.879,223.150) scale(0.53632,0.38513)" style="font-family:'Liberation Serif',serif;font-size:20px;fill:#000">2</text>
<rect x="173.2" y="223.25" width="9.5" height="0.8" fill="#000"/>
<rect x="173.2" y="226.15" width="9.5" height="0.8" fill="#000"/>
<rect x="188.4" y="225.0" width="8.5" height="0.8" fill="#000"/>
<text transform="translate(198.435,228.650) scale(0.58621,0.61168)" style="font-family:'Liberation Serif',serif;font-size:20px;fill:#000">2</text>
<rect x="410.5" y="7.25" width="269.00" height="166.00" fill="none" stroke="#333" stroke-width="1"/>
<path d="M418.36,173.25v-2.0M418.36,7.25v2.0M425.93,173.25v-2.0M425.93,7.25v2.0M433.49,173.25v-2.0M433.49,7.25v2.0M441.06,173.25v-2.0M441.06,7.25v2.0M448.62,173.25v-3.4M448.62,7.25v3.4M456.18,173.25v-2.0M456.18,7.25v2.0M463.75,173.25v-2.0M463.75,7.25v2.0M471.31,173.25v-2.0M471.31,7.25v2.0M478.88,173.25v-2.0M478.88,7.25v2.0M486.44,173.25v-3.4M486.44,7.25v3.4M494.00,173.25v-2.0M494.00,7.25v2.0M501.57,173.25v-2.0M501.57,7.25v2.0M509.13,173.25v-2.0M509.13,7.25v2.0M516.70,173.25v-2.0M516.70,7.25v2.0M524.26,173.25v-3.4M524.26,7.25v3.4M531.82,173.25v-2.0M531.82,7.25v2.0M539.39,173.25v-2.0M539.39,7.25v2.0M546.95,173.25v-2.0M546.95,7.25v2.0M554.52,173.25v-2.0M554.52,7.25v2.0M562.08,173.25v-3.4M562.08,7.25v3.4M569.64,173.25v-2.0M569.64,7.25v2.0M577.21,173.25v-2.0M577.21,7.25v2.0M584.77,173.25v-2.0M584.77,7.25v2.0M592.34,173.25v-2.0M592.34,7.25v2.0M599.90,173.25v-3.4M599.90,7.25v3.4M607.46,173.25v-2.0M607.46,7.25v2.0M615.03,173.25v-2.0M615.03,7.25v2.0M622.59,173.25v-2.0M622.59,7.25v2.0M630.16,173.25v-2.0M630.16,7.25v2.0M637.72,173.25v-3.4M637.72,7.25v3.4M645.28,173.25v-2.0M645.28,7.25v2.0M652.85,173.25v-2.0M652.85,7.25v2.0M660.41,173.25v-2.0M660.41,7.25v2.0M667.98,173.25v-2.0M667.98,7.25v2.0M675.54,173.25v-3.4M675.54,7.25v3.4M410.5,173.30h3.4M679.5,173.30h-3.4M410.5,166.66h2.0M679.5,166.66h-2.0M410.5,160.02h2.0M679.5,160.02h-2.0M410.5,153.38h2.0M679.5,153.38h-2.0M410.5,146.74h2.0M679.5,146.74h-2.0M410.5,140.10h3.4M679.5,140.10h-3.4M410.5,133.46h2.0M679.5,133.46h-2.0M410.5,126.82h2.0M679.5,126.82h-2.0M410.5,120.18h2.0M679.5,120.18h-2.0M410.5,113.54h2.0M679.5,113.54h-2.0M410.5,106.90h3.4M679.5,106.90h-3.4M410.5,100.26h2.0M679.5,100.26h-2.0M410.5,93.62h2.0M679.5,93.62h-2.0M410.5,86.98h2.0M679.5,86.98h-2.0M410.5,80.34h2.0M679.5,80.34h-2.0M410.5,73.70h3.4M679.5,73.70h-3.4M410.5,67.06h2.0M679.5,67.06h-2.0M410.5,60.42h2.0M679.5,60.42h-2.0M410.5,53.78h2.0M679.5,53.78h-2.0M410.5,47.14h2.0M679.5,47.14h-2.0M410.5,40.50h3.4M679.5,40.50h-3.4M410.5,33.86h2.0M679.5,33.86h-2.0M410.5,27.22h2.0M679.5,27.22h-2.0M410.5,20.58h2.0M679.5,20.58h-2.0M410.5,13.94h2.0M679.5,13.94h-2.0M410.5,7.30h3.4M679.5,7.30h-3.4" stroke="#333" stroke-width="1" fill="none"/>
<g fill="none" stroke-width="1.5">
<path d="M409.30,37.67 L411.95,37.67 L414.59,37.67 L417.20,37.67 L419.79,37.67 L422.36,37.67 L424.91,37.67 L427.44,37.67 L429.95,37.67 L432.44,37.67 L434.91,37.68 L437.35,37.68 L439.78,37.68 L442.19,37.68 L444.58,37.68 L446.95,37.68 L449.30,37.69 L451.63,37.69 L453.94,37.69 L456.23,37.70 L458.50,37.70 L460.75,37.70 L462.99,37.71 L465.21,37.71 L467.40,37.72 L469.58,37.72 L471.74,37.73 L473.89,37.73 L476.01,37.74 L478.12,37.75 L480.21,37.75 L482.28,37.76 L484.33,37.77 L486.37,37.78 L488.39,37.79 L490.39,37.80 L492.37,37.81 L494.34,37.82 L496.29,37.83 L498.22,37.85 L500.14,37.86 L502.04,37.87 L503.92,37.89 L505.79,37.90 L507.64,37.92 L509.47,37.94 L511.29,37.96 L513.09,37.97 L514.88,37.99 L516.65,38.01 L518.41,38.04 L520.14,38.06 L521.87,38.08 L523.58,38.11 L525.27,38.13 L526.95,38.16 L528.61,38.18 L530.26,38.21 L531.89,38.24 L533.51,38.27 L535.12,38.30 L536.71,38.34 L538.28,38.37 L539.84,38.41 L541.39,38.44 L542.92,38.48 L544.44,38.52 L545.94,38.56 L547.43,38.60 L548.91,38.64 L550.37,38.69 L551.82,38.73 L553.26,38.78 L554.68,38.83 L556.09,38.88 L557.48,38.93 L558.87,38.98 L560.24,39.03 L561.59,39.09 L562.94,39.14 L564.27,39.20 L565.59,39.26 L566.89,39.32 L568.19,39.38 L569.47,39.45 L570.74,39.51 L572.00,39.58 L573.24,39.65 L574.47,39.72 L575.69,39.79 L576.90,39.86 L578.10,39.93 L579.28,40.01 L580.46,40.09 L581.62,40.17 L582.77,40.25 L583.91,40.33 L585.04,40.41 L586.16,40.50 L587.26,40.58 L588.36,40.67 L589.44,40.76 L590.51,40.85 L591.58,40.95 L592.63,41.04 L593.67,41.14 L594.70,41.24 L595.72,41.34 L596.73,41.44 L597.73,41.54 L598.72,41.64 L599.70,41.75 L600.67,41.86 L601.63,41.97 L602.58,42.08 L603.52,42.19 L604.45,42.31 L605.37,42.42 L606.28,42.54 L607.18,42.66 L608.07,42.78 L608.95,42.90 L609.83,43.02 L610.69,43.15 L611.54,43.28 L612.39,43.41 L613.23,43.54 L614.05,43.67 L614.87,43.80 L615.68,43.94 L616.48,44.07 L617.28,44.21 L618.06,44.35 L618.84,44.49 L619.60,44.64 L620.36,44.78 L621.11,44.93 L621.86,45.07 L622.59,45.22 L623.32,45.37 L624.03,45.53 L624.74,45.68 L625.45,45.84 L626.14,45.99 L626.83,46.15 L627.51,46.31 L628.18,46.47 L628.84,46.63 L629.50,46.80 L630.15,46.96 L630.79,47.13 L631.42,47.30 L632.05,47.47 L632.67,47.64 L633.28,47.82 L633.89,47.99 L634.49,48.17 L635.08,48.34 L635.66,48.52 L636.24,48.70 L636.81,48.88 L637.38,49.07 L637.93,49.25 L638.48,49.44 L639.03,49.62 L639.57,49.81 L640.10,50.00 L640.62,50.19 L641.14,50.39 L641.66,50.58 L642.16,50.77 L642.66,50.97 L643.16,51.17 L643.65,51.37 L644.13,51.57 L644.61,51.77 L645.08,51.97 L645.54,52.18 L646.00,52.38 L646.45,52.59 L646.90,52.80 L647.35,53.01 L647.78,53.22 L648.21,53.43 L648.64,53.64 L649.06,53.86 L649.48,54.07 L649.88,54.29 L650.29,54.50 L650.69,54.72 L651.08,54.94 L651.47,55.16 L651.86,55.39 L652.24,55.61 L652.61,55.83 L652.98,56.06 L653.35,56.29 L653.71,56.51 L654.06,56.74 L654.41,56.97 L654.76,57.20 L655.10,57.44 L655.44,57.67 L655.77,57.90 L656.10,58.14 L656.42,58.38 L656.74,58.61 L657.05,58.85 L657.36,59.09 L657.67,59.33 L657.97,59.57 L658.27,59.82 L658.56,60.06 L658.85,60.31 L659.14,60.55 L659.42,60.80 L659.70,61.05 L659.97,61.29 L660.24,61.54 L660.51,61.79 L660.77,62.05 L661.03,62.30 L661.28,62.55 L661.53,62.81 L661.78,63.06 L662.03,63.32 L662.27,63.57 L662.50,63.83 L662.74,64.09 L662.97,64.35 L663.19,64.61 L663.42,64.87 L663.64,65.13 L663.85,65.40 L664.07,65.66 L664.28,65.93 L664.49,66.19 L664.69,66.46 L664.89,66.73 L665.09,66.99 L665.28,67.26 L665.48,67.53 L665.66,67.80 L665.85,68.08 L666.03,68.35 L666.21,68.62 L666.39,68.90 L666.57,69.17 L666.74,69.45 L666.91,69.72 L667.07,70.00 L667.24,70.28 L667.40,70.56 L667.56,70.84 L667.71,71.12 L667.87,71.40 L668.02,71.68 L668.17,71.96 L668.31,72.24 L668.46,72.53 L668.60,72.81 L668.74,73.10 L668.88,73.38 L669.01,73.67 L669.14,73.96 L669.27,74.25 L669.40,74.54 L669.53,74.83 L669.65,75.12 L669.77,75.41 L669.89,75.70 L670.01,75.99 L670.12,76.29 L670.24,76.58 L670.35,76.87 L670.46,77.17 L670.56,77.47 L670.67,77.76 L670.77,78.06 L670.87,78.36 L670.97,78.66 L671.07,78.96 L671.17,79.26 L671.26,79.56 L671.35,79.86 L671.45,80.16 L671.53,80.47 L671.62,80.77 L671.71,81.07 L671.79,81.38 L671.88,81.68 L671.96,81.99 L672.04,82.30 L672.11,82.60 L672.19,82.91 L672.27,83.22 L672.34,83.53 L672.41,83.84 L672.48,84.15 L672.55,84.46 L672.62,84.78 L672.69,85.09 L672.75,85.40 L672.82,85.72 L672.88,86.03 L672.94,86.35 L673.00,86.66 L673.06,86.98 L673.12,87.30 L673.18,87.61 L673.23,87.93 L673.28,88.25 L673.34,88.57 L673.39,88.89 L673.44,89.21 L673.49,89.53 L673.54,89.86 L673.59,90.18 L673.63,90.50 L673.68,90.83 L673.72,91.15 L673.77,91.48 L673.81,91.81 L673.85,92.13 L673.89,92.46 L673.93,92.79 L673.97,93.12 L674.01,93.45 L674.05,93.78 L674.08,94.11 L674.12,94.44 L674.15,94.77 L674.19,95.11 L674.22,95.44 L674.25,95.77 L674.28,96.11 L674.31,96.44 L674.34,96.78 L674.37,97.12 L674.40,97.45 L674.43,97.79 L674.46,98.13 L674.48,98.47 L674.51,98.81 L674.53,99.15 L674.56,99.50 L674.58,99.84 L674.61,100.18 L674.63,100.53 L674.65,100.87 L674.67,101.22 L674.69,101.56 L674.71,101.91 L674.73,102.26 L674.75,102.60 L674.77,102.95 L674.79,103.30 L674.81,103.65 L674.82,104.01 L674.84,104.36 L674.86,104.71 L674.87,105.06 L674.89,105.42 L674.90,105.77 L674.92,106.13 L674.93,106.49 L674.95,106.84 L674.96,107.20 L674.97,107.56 L674.98,107.92 L675.00,108.28 L675.01,108.64 L675.02,109.01 L675.03,109.37 L675.04,109.73 L675.05,110.10 L675.06,110.47 L675.07,110.83 L675.08,111.20 L675.09,111.57 L675.10,111.94 L675.11,112.31 L675.12,112.68 L675.12,113.05 L675.13,113.42 L675.14,113.80 L675.15,114.17 L675.15,114.55 L675.16,114.93 L675.17,115.30 L675.19,115.68 L675.20,116.06 L675.21,116.44 L675.23,116.83 L675.24,117.21 L675.25,117.59 L675.26,117.98 L675.27,118.36 L675.28,118.75 L675.29,119.14 L675.30,119.53 L675.31,119.92 L675.32,120.31 L675.33,120.71 L675.34,121.10 L675.35,121.49 L675.36,121.89 L675.37,122.29 L675.38,122.69 L675.38,123.09" stroke="#ff0000" stroke-width="1.7" stroke-dasharray="5.666,2.634" stroke-dashoffset="1.85"/>
<path d="M675.38,123.09 L675.39,123.49 L675.40,123.89 L675.41,124.30 L675.42,124.70 L675.42,125.11 L675.42,125.52 L675.42,125.92 L675.42,126.34 L675.42,126.75 L675.43,127.16 L675.43,127.58 L675.43,127.99 L675.43,128.41 L675.43,128.83 L675.43,129.25 L675.43,129.67 L675.43,130.10 L675.43,130.53 L675.43,130.95 L675.43,131.38 L675.43,131.81 L675.43,132.25 L675.43,132.68 L675.43,133.12 L675.43,133.56 L675.43,134.00 L675.43,134.44 L675.43,134.88 L675.44,135.33 L675.44,135.78 L675.44,136.23 L675.44,136.68 L675.44,137.14 L675.44,137.59 L675.44,138.05 L675.44,138.51 L675.44,138.98 L675.44,139.44 L675.44,139.91 L675.44,140.38 L675.44,140.86 L675.44,141.34 L675.44,141.82 L675.44,142.30 L675.44,142.79 L675.44,143.27 L675.44,143.77 L675.44,144.26 L675.44,144.76 L675.44,145.26 L675.44,145.77 L675.44,146.28 L675.44,146.79 L675.44,147.31 L675.44,147.83 L675.44,148.35 L675.44,148.88 L675.44,149.42 L675.44,149.95 L675.44,150.50 L675.44,151.05 L675.44,151.60 L675.44,152.16 L675.44,152.73 L675.44,153.30 L675.44,153.88 L675.44,154.46 L675.44,155.05 L675.44,155.65 L675.44,156.26 L675.44,156.88 L675.44,157.50 L675.44,158.14 L675.44,158.79 L675.44,159.44 L675.44,160.11 L675.44,160.80 L675.44,161.50 L675.44,162.21 L675.44,162.95 L675.44,163.70 L675.44,164.48 L675.44,165.20" stroke="#ff0000" stroke-width="1.3" stroke-dasharray="5.666,2.634" stroke-dashoffset="322.296"/>
<path d="M409.30,23.57 L411.96,23.57 L414.59,23.57 L417.20,23.57 L419.80,23.57 L422.37,23.57 L424.92,23.57 L427.45,23.57 L429.96,23.57 L432.45,23.57 L434.92,23.57 L437.37,23.58 L439.80,23.58 L442.21,23.58 L444.60,23.58 L446.97,23.58 L449.33,23.58 L451.66,23.58 L453.97,23.58 L456.26,23.58 L458.54,23.59 L460.79,23.59 L463.03,23.59 L465.25,23.59 L467.45,23.60 L469.63,23.60 L471.79,23.60 L473.93,23.61 L476.06,23.61 L478.17,23.61 L480.26,23.62 L482.33,23.62 L484.39,23.63 L486.42,23.64 L488.44,23.64 L490.45,23.65 L492.43,23.66 L494.40,23.66 L496.35,23.67 L498.29,23.68 L500.20,23.69 L502.10,23.70 L503.99,23.71 L505.86,23.72 L507.71,23.73 L509.55,23.74 L511.36,23.76 L513.17,23.77 L514.96,23.78 L516.73,23.80 L518.48,23.81 L520.23,23.83 L521.95,23.85 L523.66,23.87 L525.35,23.89 L527.03,23.91 L528.70,23.93 L530.35,23.95 L531.98,23.97 L533.60,24.00 L535.21,24.02 L536.80,24.05 L538.37,24.08 L539.94,24.11 L541.48,24.14 L543.02,24.17 L544.54,24.20 L546.04,24.23 L547.53,24.27 L549.01,24.30 L550.47,24.34 L551.92,24.38 L553.36,24.42 L554.78,24.46 L556.20,24.50 L557.59,24.55 L558.98,24.59 L560.35,24.64 L561.70,24.69 L563.05,24.74 L564.38,24.79 L565.70,24.84 L567.01,24.89 L568.30,24.95 L569.59,25.01 L570.86,25.07 L572.11,25.13 L573.36,25.19 L574.59,25.25 L575.81,25.32 L577.02,25.38 L578.22,25.45 L579.41,25.52 L580.58,25.60 L581.75,25.67 L582.90,25.75 L584.04,25.82 L585.17,25.90 L586.28,25.98 L587.39,26.07 L588.49,26.15 L589.57,26.24 L590.65,26.32 L591.71,26.41 L592.76,26.51 L593.80,26.60 L594.84,26.70 L595.86,26.79 L596.87,26.89 L597.87,26.99 L598.86,27.10 L599.84,27.20 L600.81,27.31 L601.77,27.41 L602.72,27.53 L603.66,27.64 L604.59,27.75 L605.51,27.87 L606.42,27.99 L607.32,28.10 L608.22,28.23 L609.10,28.35 L609.97,28.48 L610.84,28.60 L611.69,28.73 L612.54,28.86 L613.37,29.00 L614.20,29.13 L615.02,29.27 L615.83,29.41 L616.64,29.55 L617.43,29.69 L618.21,29.83 L618.99,29.98 L619.76,30.13 L620.52,30.28 L621.27,30.43 L622.01,30.58 L622.75,30.74 L623.47,30.90 L624.19,31.06 L624.90,31.22 L625.60,31.38 L626.30,31.54 L626.99,31.71 L627.67,31.88 L628.34,32.05 L629.00,32.22 L629.66,32.40 L630.31,32.57 L630.95,32.75 L631.58,32.93 L632.21,33.11 L632.83,33.29 L633.44,33.48 L634.05,33.66 L634.65,33.85 L635.24,34.04 L635.83,34.23 L636.40,34.43 L636.98,34.62 L637.54,34.82 L638.10,35.02 L638.65,35.22 L639.20,35.42 L639.73,35.62 L640.27,35.83 L640.79,36.04 L641.31,36.24 L641.82,36.45 L642.33,36.67 L642.83,36.88 L643.33,37.09 L643.82,37.31 L644.30,37.53 L644.78,37.75 L645.25,37.97 L645.71,38.19 L646.17,38.42 L646.63,38.64 L647.07,38.87 L647.52,39.10 L647.95,39.33 L648.39,39.56 L648.81,39.80 L649.23,40.03 L649.65,40.27 L650.06,40.51 L650.46,40.75 L650.86,40.99 L651.26,41.23 L651.65,41.48 L652.03,41.72 L652.41,41.97 L652.79,42.22 L653.16,42.47 L653.52,42.72 L653.88,42.97 L654.24,43.22 L654.59,43.48 L654.94,43.74 L655.28,43.99 L655.61,44.25 L655.95,44.51 L656.27,44.78 L656.60,45.04 L656.92,45.30 L657.23,45.57 L657.54,45.84 L657.85,46.11 L658.15,46.38 L658.45,46.65 L658.74,46.92 L659.03,47.19 L659.32,47.47 L659.60,47.74 L659.88,48.02 L660.15,48.30 L660.42,48.58 L660.69,48.86 L660.95,49.14 L661.21,49.42 L661.47,49.71 L661.72,49.99 L661.96,50.28 L662.21,50.57 L662.45,50.85 L662.69,51.14 L662.92,51.43 L663.15,51.73 L663.38,52.02 L663.60,52.31 L663.82,52.61 L664.04,52.91 L664.25,53.20 L664.46,53.50 L664.67,53.80 L664.88,54.10 L665.08,54.40 L665.27,54.70 L665.47,55.01 L665.66,55.31 L665.85,55.62 L666.04,55.93 L666.22,56.23 L666.40,56.54 L666.58,56.85 L666.75,57.16 L666.93,57.47 L667.09,57.78 L667.26,58.10 L667.43,58.41 L667.59,58.73 L667.75,59.04 L667.90,59.36 L668.06,59.68 L668.21,60.00 L668.36,60.32 L668.50,60.64 L668.65,60.96 L668.79,61.28 L668.93,61.61 L669.06,61.93 L669.20,62.25 L669.33,62.58 L669.46,62.91 L669.59,63.24 L669.71,63.56 L669.84,63.89 L669.96,64.22 L670.08,64.55 L670.20,64.89 L670.31,65.22 L670.42,65.55 L670.54,65.89 L670.64,66.22 L670.75,66.56 L670.86,66.90 L670.96,67.23 L671.06,67.57 L671.16,67.91 L671.26,68.25 L671.36,68.59 L671.45,68.93 L671.54,69.28 L671.64,69.62 L671.72,69.96 L671.81,70.31 L671.90,70.65 L671.98,71.00 L672.07,71.35 L672.15,71.69 L672.23,72.04 L672.31,72.39 L672.38,72.74 L672.46,73.09 L672.53,73.44 L672.60,73.80 L672.67,74.15 L672.74,74.50 L672.81,74.86 L672.88,75.21 L672.94,75.57 L673.01,75.93 L673.07,76.28 L673.13,76.64 L673.19,77.00 L673.25,77.36 L673.31,77.72 L673.37,78.08 L673.42,78.44 L673.48,78.81 L673.53,79.17 L673.58,79.53 L673.63,79.90 L673.68,80.27 L673.73,80.63 L673.78,81.00 L673.83,81.37 L673.87,81.73 L673.92,82.10 L673.96,82.47 L674.00,82.84 L674.04,83.22 L674.08,83.59 L674.12,83.96 L674.16,84.33 L674.20,84.71 L674.24,85.08 L674.28,85.46 L674.31,85.84 L674.35,86.21 L674.38,86.59 L674.41,86.97 L674.44,87.35 L674.48,87.73 L674.51,88.11 L674.54,88.49 L674.57,88.88 L674.59,89.26 L674.62,89.64 L674.65,90.03 L674.68,90.41 L674.70,90.80 L674.73,91.19 L674.75,91.57 L674.78,91.96 L674.80,92.35 L674.82,92.74 L674.84,93.13 L674.87,93.52 L674.89,93.92 L674.91,94.31 L674.93,94.70 L674.95,95.10 L674.96,95.49 L674.98,95.89 L675.00,96.29 L675.02,96.69 L675.03,97.09 L675.05,97.49 L675.07,97.89 L675.08,98.29 L675.10,98.69 L675.11,99.09 L675.13,99.50 L675.14,99.90 L675.15,100.31 L675.17,100.71 L675.18,101.12 L675.19,101.53 L675.20,101.94 L675.21,102.35 L675.22,102.76 L675.23,103.17 L675.24,103.58 L675.25,104.00 L675.26,104.41 L675.27,104.83 L675.28,105.24 L675.29,105.66 L675.30,106.08 L675.31,106.50 L675.32,106.92 L675.32,107.34 L675.33,107.76 L675.34,108.19 L675.35,108.61 L675.35,109.04 L675.36,109.46 L675.36,109.89 L675.37,110.32 L675.38,110.75 L675.38,111.18 L675.39,111.61 L675.39,112.04 L675.40,112.48 L675.40,112.91 L675.41,113.35 L675.41,113.79 L675.42,114.23 L675.42,114.67 L675.42,115.11 L675.43,115.55 L675.43,115.99 L675.43,116.44 L675.44,116.88 L675.44,117.33 L675.44,117.78 L675.45,118.23 L675.45,118.68 L675.45,119.13 L675.45,119.59 L675.46,120.04 L675.46,120.50 L675.46,120.96 L675.46,121.42 L675.47,121.88 L675.47,122.34 L675.47,122.81 L675.47,123.27" stroke="#000" stroke-width="1.7" stroke-dasharray="5.666,2.286,1.491,2.326" stroke-dashoffset="0.0"/>
<path d="M675.47,123.27 L675.47,123.74 L675.47,124.21 L675.48,124.68 L675.48,125.15 L675.48,125.62 L675.48,126.10 L675.48,126.58 L675.48,127.06 L675.48,127.54 L675.48,128.02 L675.48,128.50 L675.49,128.99 L675.49,129.48 L675.49,129.97 L675.49,130.46 L675.49,130.95 L675.49,131.45 L675.49,131.95 L675.49,132.45 L675.49,132.95 L675.49,133.46 L675.49,133.96 L675.49,134.47 L675.49,134.99 L675.49,135.50 L675.49,136.02 L675.49,136.54 L675.49,137.06 L675.49,137.58 L675.49,138.11 L675.49,138.64 L675.50,139.18 L675.50,139.71 L675.50,140.25 L675.50,140.79 L675.50,141.34 L675.50,141.89 L675.50,142.44 L675.50,143.00 L675.50,143.56 L675.50,144.12 L675.50,144.69 L675.50,145.26 L675.50,145.84 L675.50,146.42 L675.50,147.00 L675.50,147.59 L675.50,148.19 L675.50,148.79 L675.50,149.39 L675.50,150.00 L675.50,150.62 L675.50,151.24 L675.50,151.87 L675.50,152.50 L675.50,153.15 L675.50,153.79 L675.50,154.45 L675.50,155.12 L675.50,155.79 L675.50,156.48 L675.50,157.17 L675.50,157.87 L675.50,158.59 L675.50,159.32 L675.50,160.06 L675.50,160.82 L675.50,161.60 L675.50,162.39 L675.50,163.20 L675.50,164.04 L675.50,164.91 L675.50,165.20" stroke="#000" stroke-width="1.3" stroke-dasharray="5.666,2.286,1.491,2.326" stroke-dashoffset="334.168"/>
<path d="M416.59,16.05 L419.17,16.05 L421.73,16.05 L424.27,16.05 L426.80,16.05 L429.30,16.05 L431.78,16.05 L434.24,16.05 L436.68,16.05 L439.10,16.05 L441.50,16.05 L443.89,16.05 L446.25,16.05 L448.59,16.05 L450.92,16.05 L453.22,16.05 L455.51,16.06 L457.78,16.06 L460.02,16.06 L462.25,16.06 L464.47,16.06 L466.66,16.07 L468.83,16.07 L470.99,16.07 L473.13,16.07 L475.25,16.08 L477.35,16.08 L479.44,16.08 L481.50,16.09 L483.55,16.09 L485.59,16.10 L487.60,16.10 L489.60,16.11 L491.58,16.11 L493.55,16.12 L495.49,16.13 L497.42,16.13 L499.34,16.14 L501.24,16.15 L503.12,16.16 L504.98,16.17 L506.83,16.18 L508.66,16.19 L510.48,16.20 L512.28,16.21 L514.07,16.23 L515.84,16.24 L517.59,16.25 L519.33,16.27 L521.05,16.29 L522.76,16.30 L524.45,16.32 L526.13,16.34 L527.79,16.36 L529.44,16.38 L531.07,16.40 L532.69,16.42 L534.30,16.44 L535.88,16.47 L537.46,16.49 L539.02,16.52 L540.57,16.55 L542.10,16.58 L543.62,16.61 L545.12,16.64 L546.61,16.67 L548.09,16.70 L549.56,16.74 L551.01,16.78 L552.44,16.81 L553.87,16.85 L555.28,16.89 L556.67,16.93 L558.06,16.98 L559.43,17.02 L560.79,17.07 L562.13,17.12 L563.47,17.16 L564.79,17.22 L566.09,17.27 L567.39,17.32 L568.67,17.38 L569.94,17.43 L571.20,17.49 L572.45,17.55 L573.68,17.62 L574.91,17.68 L576.12,17.74 L577.32,17.81 L578.51,17.88 L579.68,17.95 L580.85,18.02 L582.00,18.10 L583.14,18.18 L584.27,18.25 L585.39,18.33 L586.50,18.41 L587.60,18.50 L588.69,18.58 L589.76,18.67 L590.83,18.76 L591.89,18.85 L592.93,18.95 L593.96,19.04 L594.99,19.14 L596.00,19.24 L597.00,19.34 L598.00,19.44 L598.98,19.55 L599.95,19.65 L600.91,19.76 L601.87,19.87 L602.81,19.99 L603.74,20.10 L604.67,20.22 L605.58,20.34 L606.49,20.46 L607.38,20.58 L608.27,20.71 L609.15,20.83 L610.01,20.96 L610.87,21.09 L611.72,21.23 L612.56,21.36 L613.39,21.50 L614.22,21.64 L615.03,21.78 L615.84,21.92 L616.63,22.07 L617.42,22.22 L618.20,22.37 L618.97,22.52 L619.74,22.67 L620.49,22.83 L621.24,22.98 L621.98,23.14 L622.71,23.30 L623.43,23.47 L624.14,23.63 L624.85,23.80 L625.55,23.97 L626.24,24.14 L626.92,24.32 L627.60,24.49 L628.27,24.67 L628.93,24.85 L629.58,25.03 L630.23,25.22 L630.86,25.40 L631.50,25.59 L632.12,25.78 L632.74,25.97 L633.35,26.16 L633.95,26.36 L634.55,26.55 L635.14,26.75 L635.72,26.95 L636.29,27.16 L636.86,27.36 L637.42,27.57 L637.98,27.78 L638.53,27.99 L639.07,28.20 L639.61,28.41 L640.14,28.63 L640.66,28.85 L641.18,29.07 L641.69,29.29 L642.20,29.51 L642.70,29.74 L643.19,29.96 L643.68,30.19 L644.16,30.42 L644.63,30.65 L645.10,30.89 L645.57,31.12 L646.02,31.36 L646.48,31.60 L646.92,31.84 L647.37,32.08 L647.80,32.32 L648.23,32.57 L648.66,32.81 L649.08,33.06 L649.49,33.31 L649.90,33.57 L650.30,33.82 L650.70,34.07 L651.10,34.33 L651.49,34.59 L651.87,34.85 L652.25,35.11 L652.62,35.37 L652.99,35.64 L653.36,35.90 L653.72,36.17 L654.07,36.44 L654.42,36.71 L654.77,36.98 L655.11,37.26 L655.44,37.53 L655.78,37.81 L656.10,38.08 L656.43,38.36 L656.75,38.64 L657.06,38.93 L657.37,39.21 L657.68,39.49 L657.98,39.78 L658.28,40.07 L658.57,40.36 L658.86,40.65 L659.15,40.94 L659.43,41.23 L659.71,41.53 L659.98,41.82 L660.25,42.12 L660.52,42.42 L660.78,42.72 L661.04,43.02 L661.29,43.32 L661.55,43.62 L661.79,43.93 L662.04,44.23 L662.28,44.54 L662.52,44.85 L662.75,45.16 L662.98,45.47 L663.21,45.78 L663.43,46.09 L663.65,46.40 L663.87,46.72 L664.09,47.04 L664.30,47.35 L664.50,47.67 L664.71,47.99 L664.91,48.31 L665.11,48.63 L665.31,48.96 L665.50,49.28 L665.69,49.61 L665.87,49.93 L666.06,50.26 L666.24,50.59 L666.42,50.92 L666.59,51.25 L666.77,51.58 L666.94,51.91 L667.10,52.24 L667.27,52.58 L667.43,52.91 L667.59,53.25 L667.75,53.59 L667.90,53.93 L668.05,54.27 L668.20,54.61 L668.35,54.95 L668.49,55.29 L668.64,55.63 L668.78,55.98 L668.91,56.32 L669.05,56.67 L669.18,57.02 L669.31,57.36 L669.44,57.71 L669.57,58.06 L669.69,58.41 L669.82,58.77 L669.94,59.12 L670.05,59.47 L670.17,59.83 L670.28,60.18 L670.40,60.54 L670.51,60.89 L670.61,61.25 L670.72,61.61 L670.82,61.97 L670.93,62.33 L671.03,62.69 L671.13,63.05 L671.22,63.42 L671.32,63.78 L671.41,64.14 L671.50,64.51 L671.60,64.87 L671.68,65.24 L671.77,65.61 L671.86,65.98 L671.94,66.35 L672.02,66.72 L672.10,67.09 L672.18,67.46 L672.26,67.83 L672.33,68.20 L672.41,68.58 L672.48,68.95 L672.55,69.33 L672.62,69.71 L672.69,70.08 L672.76,70.46 L672.83,70.84 L672.89,71.22 L672.96,71.60 L673.02,71.98 L673.08,72.36 L673.14,72.74 L673.20,73.13 L673.26,73.51 L673.31,73.89 L673.37,74.28 L673.42,74.67 L673.47,75.05 L673.53,75.44 L673.58,75.83 L673.63,76.22 L673.67,76.61 L673.72,77.00 L673.77,77.39 L673.81,77.78 L673.86,78.18 L673.90,78.57 L673.94,78.96 L673.99,79.36 L674.03,79.75 L674.07,80.15 L674.10,80.55 L674.14,80.95 L674.18,81.34 L674.22,81.74 L674.25,82.14 L674.29,82.54 L674.32,82.95 L674.35,83.35 L674.38,83.75 L674.42,84.16 L674.45,84.56 L674.48,84.97 L674.51,85.37 L674.53,85.78 L674.56,86.19 L674.59,86.60 L674.61,87.00 L674.64,87.41 L674.67,87.83 L674.69,88.24 L674.71,88.65 L674.74,89.06 L674.76,89.48 L674.78,89.89 L674.80,90.31 L674.82,90.72 L674.84,91.14 L674.86,91.56 L674.88,91.97 L674.90,92.39 L674.92,92.81 L674.94,93.23 L674.96,93.66 L674.97,94.08 L674.99,94.50 L675.00,94.93 L675.02,95.35 L675.03,95.78 L675.05,96.20 L675.06,96.63 L675.08,97.06 L675.09,97.49 L675.10,97.92 L675.12,98.35 L675.13,98.78 L675.14,99.21 L675.15,99.65 L675.16,100.08 L675.17,100.52 L675.18,100.95 L675.19,101.39 L675.20,101.83 L675.21,102.27 L675.22,102.71 L675.23,103.15 L675.24,103.59 L675.25,104.03 L675.26,104.47 L675.26,104.92 L675.27,105.36 L675.28,105.81 L675.28,106.26 L675.29,106.71 L675.30,107.16 L675.30,107.61 L675.31,108.06 L675.32,108.51 L675.32,108.96 L675.33,109.42 L675.33,109.87 L675.34,110.33 L675.34,110.79 L675.35,111.25 L675.35,111.71 L675.36,112.17 L675.36,112.63 L675.36,113.10 L675.37,113.56 L675.37,114.03 L675.37,114.49 L675.38,114.96 L675.38,115.43 L675.38,115.90 L675.39,116.38 L675.39,116.85 L675.39,117.32 L675.39,117.80 L675.40,118.28 L675.40,118.76 L675.40,119.24 L675.40,119.72 L675.41,120.20 L675.41,120.68 L675.41,121.17 L675.41,121.66 L675.41,122.15 L675.41,122.64 L675.42,123.13 L675.42,123.62 L675.42,124.12 L675.42,124.61 L675.42,125.11 L675.42,125.61 L675.42,126.11 L675.42,126.62 L675.43,127.12 L675.43,127.63 L675.43,128.14 L675.43,128.65 L675.43,129.16 L675.43,129.68 L675.43,130.19 L675.43,130.71 L675.43,131.23 L675.43,131.75 L675.43,132.28 L675.43,132.81 L675.43,133.33 L675.43,133.87 L675.43,134.40 L675.43,134.94 L675.44,135.47 L675.44,136.01 L675.44,136.56 L675.44,137.10 L675.44,137.65 L675.44,138.20 L675.44,138.76 L675.44,139.32 L675.44,139.88 L675.44,140.44 L675.44,141.01 L675.44,141.58 L675.44,142.15 L675.44,142.72 L675.44,143.30 L675.44,143.89 L675.44,144.48 L675.44,145.07 L675.44,145.66 L675.44,146.26 L675.44,146.86 L675.44,147.47 L675.44,148.09 L675.44,148.70 L675.44,149.33 L675.44,149.95 L675.44,150.59 L675.44,151.23 L675.44,151.87 L675.44,152.52 L675.44,153.18 L675.44,153.85 L675.44,154.52 L675.44,155.20 L675.44,155.89 L675.44,156.58 L675.44,157.29 L675.44,158.01 L675.44,158.74 L675.44,159.48 L675.44,160.23 L675.44,161.00 L675.44,161.78 L675.44,162.58 L675.44,163.40 L675.44,164.25 L675.44,164.90" stroke="#0000ff"/>
</g>
<g transform="translate(0,187.800) scale(1,1.06) translate(0,-187.800)"><text x="402.459" y="187.800" style="font-family:'Liberation Sans',sans-serif;font-size:12px;fill:#000;stroke:#000;stroke-width:0.2px">0.3</text></g>
<g transform="translate(0,187.800) scale(1,1.06) translate(0,-187.800)"><text x="440.279" y="187.800" style="font-family:'Liberation Sans',sans-serif;font-size:12px;fill:#000;stroke:#000;stroke-width:0.2px">0.4</text></g>
<g transform="translate(0,187.800) scale(1,1.06) translate(0,-187.800)"><text x="478.099" y="187.800" style="font-family:'Liberation Sans',sans-serif;font-size:12px;fill:#000;stroke:#000;stroke-width:0.2px">0.5</text></g>
<g transform="translate(0,187.800) scale(1,1.06) translate(0,-187.800)"><text x="515.919" y="187.800" style="font-family:'Liberation Sans',sans-serif;font-size:12px;fill:#000;stroke:#000;stroke-width:0.2px">0.6</text></g>
<g transform="translate(0,187.800) scale(1,1.06) translate(0,-187.800)"><text x="553.739" y="187.800" style="font-family:'Liberation Sans',sans-serif;font-size:12px;fill:#000;stroke:#000;stroke-width:0.2px">0.7</text></g>
<g transform="translate(0,187.800) scale(1,1.06) translate(0,-187.800)"><text x="591.559" y="187.800" style="font-family:'Liberation Sans',sans-serif;font-size:12px;fill:#000;stroke:#000;stroke-width:0.2px">0.8</text></g>
<g transform="translate(0,187.800) scale(1,1.06) translate(0,-187.800)"><text x="629.379" y="187.800" style="font-family:'Liberation Sans',sans-serif;font-size:12px;fill:#000;stroke:#000;stroke-width:0.2px">0.9</text></g>
<g transform="translate(0,187.800) scale(1,1.06) translate(0,-187.800)"><path transform="translate(667.199,187.800) scale(12.0000,-12.0000)" d="M0.373,0 L0.285,0 L0.285,0.56 C0.253,0.53 0.2,0.49 0.109,0.445 L0.109,0.53 C0.2,0.575 0.3,0.64 0.337,0.688 L0.373,0.688 Z" fill="#000" stroke="#000" stroke-width="0.0167"/><text x="673.873" y="187.800" style="font-family:'Liberation Sans',sans-serif;font-size:12px;fill:#000;stroke:#000;stroke-width:0.2px">.0</text></g>
<g transform="translate(0,177.600) scale(1,1.03) translate(0,-177.600)"><text x="400.726" y="177.600" style="font-family:'Liberation Sans',sans-serif;font-size:12px;fill:#000;stroke:#000;stroke-width:0.2px">0</text></g>
<g transform="translate(0,144.400) scale(1,1.03) translate(0,-144.400)"><path transform="translate(400.726,144.400) scale(12.0000,-12.0000)" d="M0.373,0 L0.285,0 L0.285,0.56 C0.253,0.53 0.2,0.49 0.109,0.445 L0.109,0.53 C0.2,0.575 0.3,0.64 0.337,0.688 L0.373,0.688 Z" fill="#000" stroke="#000" stroke-width="0.0167"/></g>
<g transform="translate(0,111.200) scale(1,1.03) translate(0,-111.200)"><text x="400.726" y="111.200" style="font-family:'Liberation Sans',sans-serif;font-size:12px;fill:#000;stroke:#000;stroke-width:0.2px">2</text></g>
<g transform="translate(0,78.000) scale(1,1.03) translate(0,-78.000)"><text x="400.726" y="78.000" style="font-family:'Liberation Sans',sans-serif;font-size:12px;fill:#000;stroke:#000;stroke-width:0.2px">3</text></g>
<g transform="translate(0,44.800) scale(1,1.03) translate(0,-44.800)"><text x="400.726" y="44.800" style="font-family:'Liberation Sans',sans-serif;font-size:12px;fill:#000;stroke:#000;stroke-width:0.2px">4</text></g>
<g transform="translate(0,11.600) scale(1,1.03) translate(0,-11.600)"><text x="400.726" y="11.600" style="font-family:'Liberation Sans',sans-serif;font-size:12px;fill:#000;stroke:#000;stroke-width:0.2px">5</text></g>
<path d="M542.5,127.0h5.8M551.4,127.0h5.8" stroke="#ff0000" stroke-width="1.5"/>
<path d="M542.5,139.5h5.8M550.6,139.5h1.8M555.0,139.5h5.2" stroke="#000" stroke-width="1.5"/>
<path d="M542.5,152.0h17.7" stroke="#0000ff" stroke-width="1.5"/>
<text x="563.80" y="130.20" class="lg">b=0</text>
<text x="563.80" y="142.60" class="lg">b=0.02</text>
<text x="563.80" y="155.10" class="lg">b=0.04</text>
<text transform="translate(532.224,207.850) scale(0.50404,0.61048)" style="font-family:'Liberation Sans',sans-serif;font-size:20px;fill:#000;stroke:#000;stroke-width:0.359px;stroke-linejoin:round">T</text>
<text transform="translate(539.150,209.712) scale(0.48591,0.70809)" style="font-family:'Liberation Sans',sans-serif;font-size:20px;fill:#000;stroke:#000;stroke-width:0.335px;stroke-linejoin:round">/</text>
<text transform="translate(543.557,207.850) scale(0.66370,0.61048)" style="font-family:'Liberation Sans',sans-serif;font-style:italic;font-size:20px;fill:#000;stroke:#000;stroke-width:0.314px;stroke-linejoin:round">T</text>
<text transform="translate(551.527,210.120) scale(0.41662,0.41070)" style="font-family:'Liberation Sans',sans-serif;font-style:italic;font-size:20px;fill:#000;stroke:#000;stroke-width:0.242px;stroke-linejoin:round">c</text>
<g transform="translate(353.5,0) rotate(-90)">
<text transform="translate(-112.469,13.779) scale(0.62778,0.55138)" style="font-family:'Liberation Sans',sans-serif;font-size:20px;fill:#000">&lt;</text>
<text transform="translate(-101.619,13.220) scale(0.62714,0.66642)" style="font-family:'Liberation Sans',sans-serif;font-style:italic;font-size:20px;fill:#000">J</text>
<text transform="translate(-95.155,15.450) scale(0.36885,0.40695)" style="font-family:'Liberation Sans',sans-serif;font-style:italic;font-size:20px;fill:#000">x</text>
<text transform="translate(-86.159,13.898) scale(0.61749,0.63015)" style="font-family:'Liberation Sans',sans-serif;font-size:20px;fill:#000">&gt;</text>
<text transform="translate(-78.281,7.450) scale(0.42804,0.42249)" style="font-family:'Liberation Sans',sans-serif;font-size:20px;fill:#000">2</text>
<text transform="translate(-72.450,8.556) scale(0.46791,0.48340)" style="font-family:'Liberation Sans',sans-serif;font-size:20px;fill:#000">/</text>
<text transform="translate(-69.100,7.450) scale(0.34097,0.46512)" style="font-family:'Liberation Sans',sans-serif;font-size:20px;fill:#000">7</text>
<text transform="translate(-96.103,36.750) scale(0.58613,0.66862)" style="font-family:'Liberation Sans',sans-serif;font-style:italic;font-size:20px;fill:#000">T</text>
<text transform="translate(-88.630,38.966) scale(0.42758,0.42895)" style="font-family:'Liberation Sans',sans-serif;font-style:italic;font-size:20px;fill:#000">c</text>
</g>
<path d="M373.5,64V115.9" stroke="#333" stroke-width="1"/>
<text transform="translate(471.737,227.998) scale(0.58403,0.71686)" style="font-family:'Liberation Serif',serif;font-weight:bold;font-size:20px;fill:#000">(</text>
<text transform="translate(476.313,227.876) scale(0.73569,0.63245)" style="font-family:'Liberation Serif',serif;font-weight:bold;font-size:20px;fill:#000;stroke:#000;stroke-width:0.439px;stroke-linejoin:round">b</text>
<text transform="translate(485.574,227.998) scale(0.58403,0.71686)" style="font-family:'Liberation Serif',serif;font-weight:bold;font-size:20px;fill:#000">)</text>
<text transform="translate(496.561,228.150) scale(0.81516,0.56240)" style="font-family:'Liberation Serif',serif;font-style:italic;font-size:20px;fill:#000">m</text>
<text transform="translate(509.179,223.450) scale(0.53632,0.37003)" style="font-family:'Liberation Serif',serif;font-size:20px;fill:#000">2</text>
<rect x="520.2" y="223.25" width="8.8" height="0.8" fill="#000"/>
<rect x="520.2" y="226.15" width="8.8" height="0.8" fill="#000"/>
<rect x="535.3" y="225.0" width="8.5" height="0.8" fill="#000"/>
<text transform="translate(544.786,228.628) scale(0.65784,0.62448)" style="font-family:'Liberation Serif',serif;font-size:20px;fill:#000">5</text>
<text transform="translate(552.350,231.470) scale(0.93582,0.91936)" style="font-family:'Liberation Serif',serif;font-size:20px;fill:#000">/</text>
<text transform="translate(558.815,228.550) scale(0.60235,0.61531)" style="font-family:'Liberation Serif',serif;font-size:20px;fill:#000">4</text>
</svg>
</body></html>
